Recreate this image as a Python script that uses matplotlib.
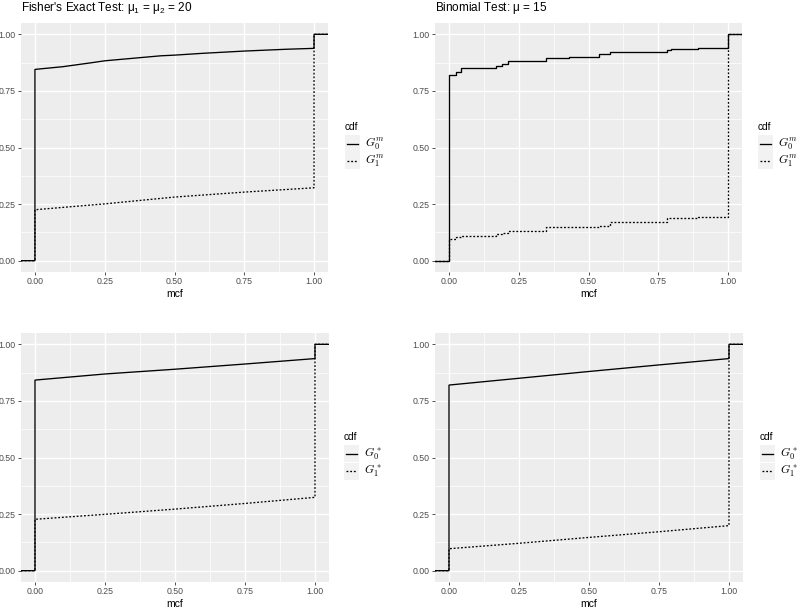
import matplotlib
matplotlib.use("Agg")
import matplotlib.pyplot as plt
from matplotlib.lines import Line2D
from matplotlib.patches import Rectangle

plt.rcParams['font.family'] = ['Liberation Sans', 'DejaVu Sans']
plt.rcParams['mathtext.fontset'] = 'custom'
plt.rcParams['mathtext.rm'] = 'Liberation Sans'
plt.rcParams['mathtext.it'] = 'Liberation Sans:italic'

# ---- data ----
# top left: Fisher, G^m
fisher_m_x = [0, 0.1, 0.2, 0.25, 0.35, 0.45, 0.5, 0.6, 0.75, 0.9, 1.0]
fisher_m_g0 = [0.845, 0.857, 0.874, 0.883, 0.894, 0.905, 0.908, 0.916, 0.926, 0.934, 0.938]
fisher_m_g1_x = [0, 0.25, 0.5, 0.75, 1.0]
fisher_m_g1 = [0.225, 0.251, 0.281, 0.303, 0.322]

# top right: Binomial, G^m (step function)
binom_m_x = [0, 0.024, 0.044, 0.17, 0.19, 0.212, 0.347, 0.43, 0.537, 0.577, 0.781, 0.797, 0.892]
binom_m_g0 = [0.820, 0.834, 0.849, 0.858, 0.868, 0.880, 0.897, 0.901, 0.912, 0.923, 0.932, 0.935, 0.939]
binom_m_g1 = [0.096, 0.103, 0.111, 0.118, 0.124, 0.130, 0.148, 0.150, 0.155, 0.173, 0.188, 0.189, 0.195]

# bottom left: Fisher, G^*
fisher_s_x = [0, 0.25, 0.5, 0.75, 1.0]
fisher_s_g0 = [0.842, 0.869, 0.890, 0.913, 0.937]
fisher_s_g1 = [0.227, 0.249, 0.272, 0.297, 0.324]

# bottom right: Binomial, G^*
binom_s_x = [0, 0.25, 0.5, 0.75, 1.0]
binom_s_g0 = [0.820, 0.850, 0.880, 0.909, 0.937]
binom_s_g1 = [0.097, 0.121, 0.147, 0.172, 0.199]

W, H = 800, 609
fig = plt.figure(figsize=(W / 100, H / 100), dpi=100)

DOT = (0, (1.4, 1.4))
LW = 0.95


def px_axes(l, t, r, b):
    return fig.add_axes([l / W, 1 - b / H, (r - l) / W, (b - t) / H])


def style(ax):
    ax.set_facecolor('#EDEDED')
    for s in ax.spines.values():
        s.set_visible(False)
    ax.set_xlim(-0.05, 1.05)
    ax.set_ylim(-0.05, 1.05)
    ticks = [0, 0.25, 0.5, 0.75, 1.0]
    minor = [0.125, 0.375, 0.625, 0.875]
    ax.set_xticks(ticks)
    ax.set_yticks(ticks)
    ax.set_xticks(minor, minor=True)
    ax.set_yticks(minor, minor=True)
    ax.set_xticklabels(['0.00', '0.25', '0.50', '0.75', '1.00'])
    ax.set_yticklabels(['0.00', '0.25', '0.50', '0.75', '1.00'])
    ax.grid(True, which='major', color='white', lw=1.0)
    ax.grid(True, which='minor', color='white', lw=0.5)
    ax.set_axisbelow(True)
    ax.tick_params(which='major', labelsize=6.3, labelcolor='#4D4D4D', color='#333333',
                   length=2.2, width=0.6, pad=1.5)
    ax.tick_params(which='minor', length=0)
    ax.set_xlabel('mcf', fontsize=7.5, labelpad=2)


def line_cdf(ax, xs, ys, ls):
    x = [-0.05, 0] + list(xs) + [1.0, 1.05]
    y = [0, 0] + list(ys) + [1.0, 1.0]
    ax.plot(x, y, color='black', lw=LW, ls=ls, solid_joinstyle='miter')


def step_cdf(ax, xs, ys, ls):
    x = [-0.05] + list(xs) + [1.0, 1.05]
    y = [0] + list(ys) + [1.0, 1.0]
    ax.plot(x, y, color='black', lw=LW, ls=ls, drawstyle='steps-post')


def legend(left, center, labels):
    fig.text(left / W, 1 - (center - 21) / H, 'cdf', fontsize=7.3, va='center', ha='left')
    for i, (lab, ls) in enumerate(zip(labels, ['-', DOT])):
        cy = center - 4 + 17.5 * i
        fig.patches.append(Rectangle((left / W, 1 - (cy + 8.5) / H), 15 / W, 17 / H,
                                     transform=fig.transFigure, facecolor='#F2F2F2',
                                     edgecolor='none'))
        fig.lines.append(Line2D([(left + 2) / W, (left + 13) / W], [1 - cy / H, 1 - cy / H],
                                transform=fig.transFigure, color='black', lw=LW, ls=ls))
        t = fig.text((left + 20) / W, 1 - cy / H, lab, fontsize=8.5, va='center', ha='left')
        t.set_math_fontfamily('cm')


# top left
ax1 = px_axes(21, 23, 328, 272)
style(ax1)
line_cdf(ax1, fisher_m_x, fisher_m_g0, '-')
line_cdf(ax1, fisher_m_g1_x, fisher_m_g1, DOT)
ax1.set_title(r"Fisher's Exact Test: $\mathregular{\mu_1}$ = $\mathregular{\mu_2}$ = 20",
              loc='left', fontsize=8.5, pad=9)
legend(345, 147.5, [r'$G_0^m$', r'$G_1^m$'])

# top right
ax2 = px_axes(435, 23, 742, 272)
style(ax2)
step_cdf(ax2, binom_m_x, binom_m_g0, '-')
step_cdf(ax2, binom_m_x, binom_m_g1, DOT)
ax2.set_title(r"Binomial Test: $\mathregular{\mu}$ = 15", loc='left', fontsize=8.5, pad=9)
legend(758, 147.5, [r'$G_0^m$', r'$G_1^m$'])

# bottom left
ax3 = px_axes(21, 333, 329, 582)
style(ax3)
line_cdf(ax3, fisher_s_x, fisher_s_g0, '-')
line_cdf(ax3, fisher_s_x, fisher_s_g1, DOT)
legend(344, 457.5, [r'$G_0^*$', r'$G_1^*$'])

# bottom right
ax4 = px_axes(435, 333, 743, 582)
style(ax4)
line_cdf(ax4, binom_s_x, binom_s_g0, '-')
line_cdf(ax4, binom_s_x, binom_s_g1, DOT)
legend(760, 457.5, [r'$G_0^*$', r'$G_1^*$'])

fig.savefig('out.png', dpi=100)
